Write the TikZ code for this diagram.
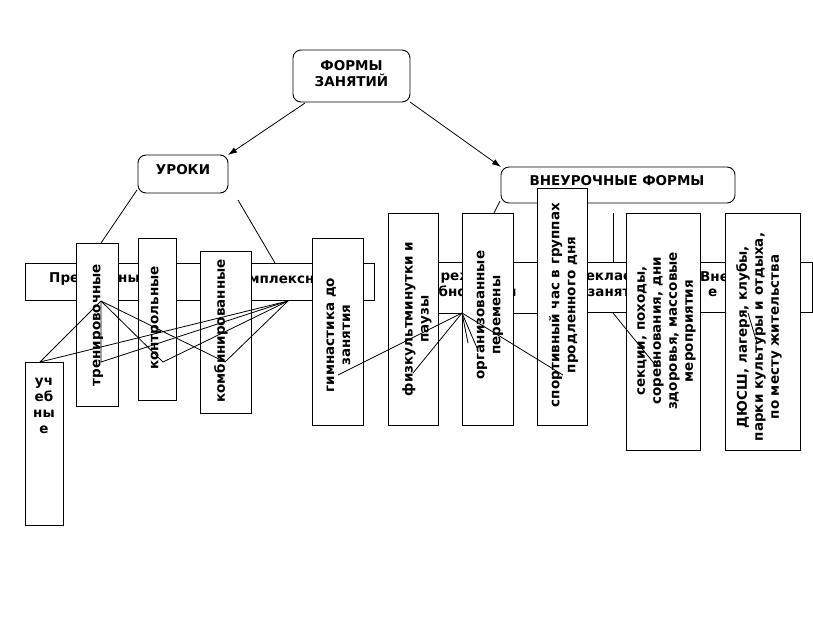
\documentclass[tikz,border=0pt]{standalone}
\usepackage{fontspec}
\setmainfont{DejaVu Sans}
\usetikzlibrary{arrows.meta}
\newcommand\bx[6][]{\node[bxs,#1,minimum width={(#5-#3)*1pt},minimum height={(#6-#4)*1pt}] (#2) at ({(#3+#5)/2},{(#4+#6)/2}) {};}
\begin{document}
\begin{tikzpicture}[x=1pt,y=-1pt,
  bxs/.style={draw,fill=white,inner sep=0pt,outer sep=0pt,line width=0.9pt},
  rbx/.style={rounded corners=8pt},
  txt/.style={font=\bfseries\fontsize{13.5}{16}\selectfont,inner sep=0pt,align=center},
  vt/.style={txt,rotate=90},
  ln/.style={line width=0.8pt},
  arr/.style={ln,-{Latex[length=9pt,width=6pt]}}]
\useasboundingbox[fill=white] (0,0) rectangle (813,625);

% top rounded boxes
\bx[rbx]{formy}{293}{50}{410}{102}
\node[txt] (tformy) at (351.5,74) {ФОРМЫ\\ЗАНЯТИЙ};
\bx[rbx]{uroki}{138}{155}{228}{193}
\node[txt] (turoki) at (183,170) {УРОКИ};
\bx[rbx]{vneur}{501}{167}{735}{203}
\node[txt] (tvneur) at (617,181) {ВНЕУРОЧНЫЕ ФОРМЫ};

% horizontal band
\bx{predm}{25}{263}{200}{300}
\node[txt,anchor=west] (tpredm) at (49,279) {Предметные};
\bx{kompl}{200}{263}{374}{300}
\node[txt] (tkompl) at (282,279) {Комплексные};
\bx{rezh}{403}{262}{537}{313}
\node[txt] (trezh) at (464,285) {В режиме\\учебного дня};
\bx{vnekl}{537}{262}{700}{312}
\node[txt] (tvnekl) at (618,284) {Внеклассные\\занятия};
\bx{vnesh}{700}{262}{812}{312}
\node[txt,anchor=west] (tvnesh1) at (700,277) {Внешкольны};
\node[txt,anchor=west] (tvnesh2) at (708,293) {е};

% vertical boxes
\bx{ucheb}{25}{362}{63}{525}
\node[txt] (tucheb) at (44,406) {уч\\еб\\ны\\е};
\bx{tren}{76}{243}{118}{406}
\node[vt] (ttren) at (98,325) {тренировочные};
\bx{kontr}{138}{238}{176}{400}
\node[vt] (tkontr) at (156,318) {контрольные};
\bx{komb}{200}{251}{251}{413}
\node[vt] (tkomb) at (221,331) {комбинированные};
\bx{gimn}{312}{238}{363}{425}
\node[vt] (tgimn) at (338.5,335) {гимнастика до\\занятия};
\bx{fizk}{388}{213}{438}{425}
\node[vt] (tfizk) at (417,319) {физкультминутки и\\паузы};
\bx{org}{462}{213}{513}{425}
\node[vt] (torg) at (490,315) {организованные\\перемены};
\bx{sport}{537}{188}{587}{425}
\node[vt] (tsport) at (563.5,305) {спортивный час в группах\\продленного дня};
\bx{sekc}{626}{213}{700}{450}
\node[vt] (tsekc) at (666.5,331) {секции, походы,\\соревнования, дни\\здоровья, массовые\\мероприятия};
\bx{dyus}{725}{213}{800}{450}
\node[vt] (tdyus) at (759,337) {ДЮСШ, лагеря, клубы,\\парки культуры и отдыха,\\по месту жительства};

% connector points
\coordinate (fa) at (305,103);
\coordinate (ua) at (137,190);
\coordinate (ub) at (238,200);
\coordinate (ta) at (101,243);
\coordinate (ka) at (275,263);
\coordinate (va) at (500,201);
\coordinate (vb) at (494,213);
\coordinate (vc) at (613,213);
\coordinate (vd) at (613,262);
\coordinate (P1) at (101,301);
\coordinate (P2) at (288,301);
\coordinate (Q1) at (40,362);
\coordinate (Q2) at (101,362);
\coordinate (Q3) at (163,362);
\coordinate (Q4) at (225,362);
\coordinate (P3) at (462,313);
\coordinate (R1) at (338,375);
\coordinate (R2) at (413,373);
\coordinate (R3) at (477,348);
\coordinate (R4) at (468,343);
\coordinate (R5) at (563,375);
\coordinate (P4) at (613,313);
\coordinate (S1) at (657,367);
\coordinate (P5) at (748,313);
\coordinate (S2) at (757,343);

% connectors
\draw[arr] (fa) -- (uroki.north east);
\draw[arr] (formy.south east) -- (vneur.north west);
\draw[ln] (ua) -- (ta);
\draw[ln] (ub) -- (ka);
\draw[ln] (va) -- (vb);
\draw[ln] (vc) -- (vd);
\foreach \q in {Q1,Q2,Q3,Q4}{\draw[ln] (P1) -- (\q) -- (P2);}
\foreach \r in {R1,R2,R3,R4,R5}{\draw[ln] (P3) -- (\r);}
\draw[ln] (P4) -- (S1);
\draw[ln] (P5) -- (S2);
\end{tikzpicture}
\end{document}
